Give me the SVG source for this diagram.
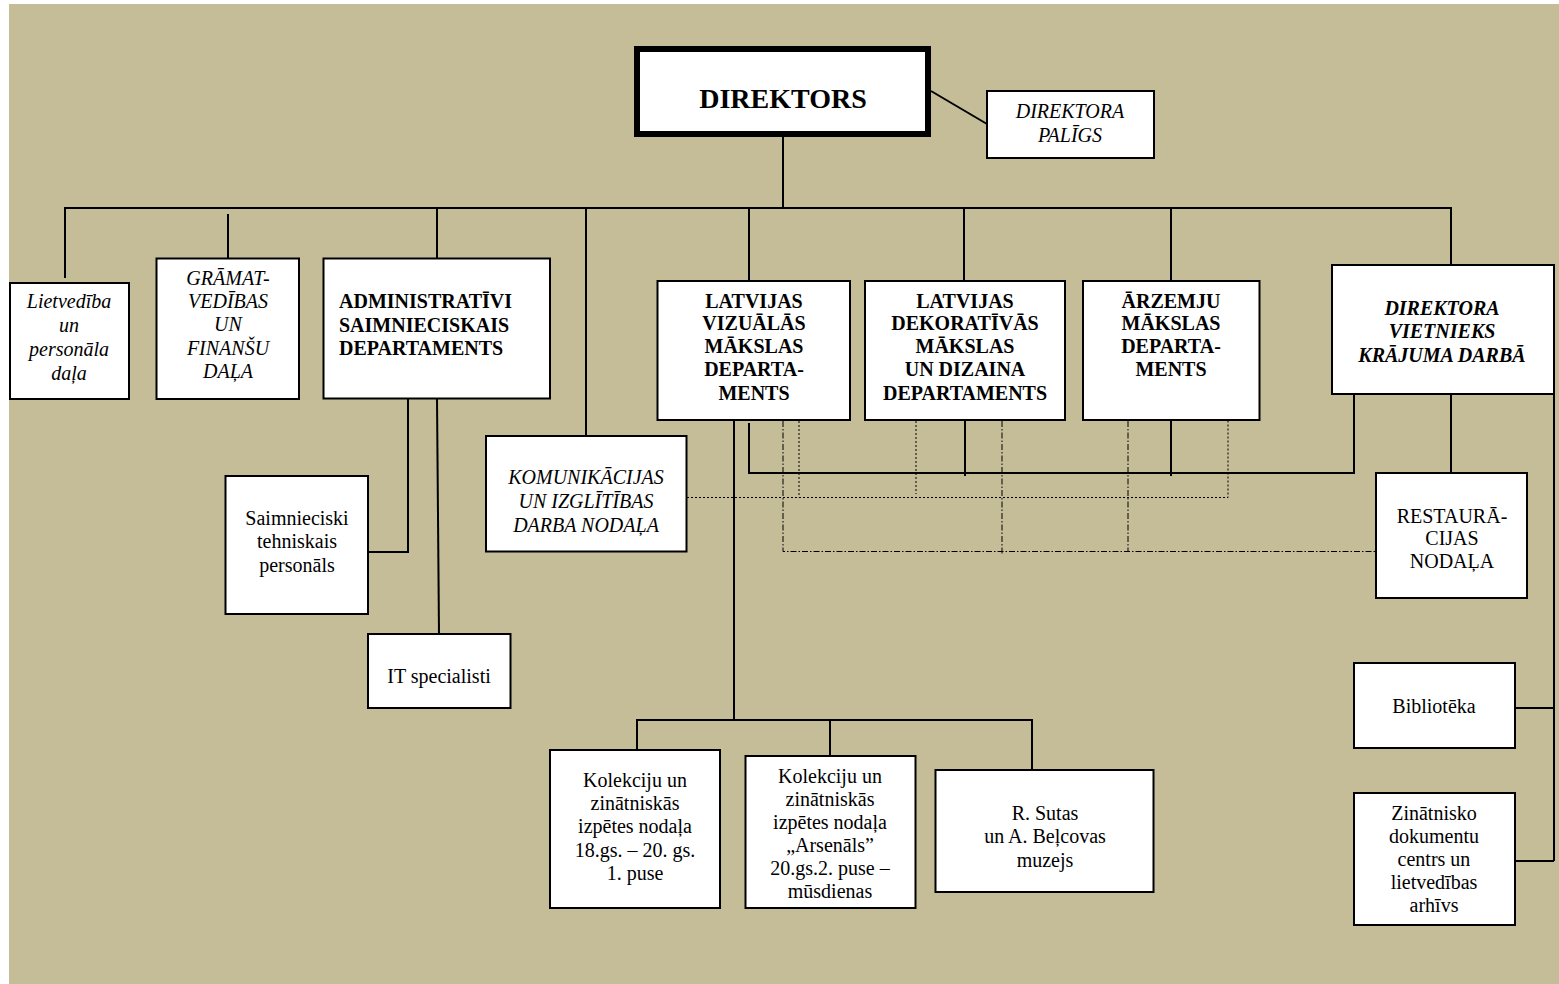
<svg xmlns="http://www.w3.org/2000/svg" width="1559" height="984" viewBox="0 0 1559 984">
<style>
.bx{fill:#fff;stroke:#000;stroke-width:2}
.ln{fill:none;stroke:#000;stroke-width:2}
.dot{fill:none;stroke:#000;stroke-width:1;stroke-dasharray:2 2}
.dd{fill:none;stroke:#000;stroke-width:1;stroke-dasharray:6 2 1.5 2}
text{font-family:"Liberation Serif","Times New Roman",serif;font-size:20px;fill:#000;text-anchor:middle}
.b{font-weight:bold}
.i{font-style:italic}
</style>
<rect x="9" y="4" width="1550" height="980" fill="#C4BD97"/>
<g id="connectors">
<path class="ln" d="M783,137 V208"/>
<path class="ln" d="M65,278 V208 H1451 V265"/>
<path class="ln" d="M437,208 V258"/>
<path class="ln" d="M586,208 V436"/>
<path class="ln" d="M749,208 V281"/>
<path class="ln" d="M964,208 V281"/>
<path class="ln" d="M1171,208 V281"/>
<path class="ln" d="M228,214 V258"/>
<path class="ln" d="M931,91 L987,124"/>
<path class="ln" d="M408,398 V552 H368"/>
<path class="ln" d="M437,398 L439,634"/>
<path class="ln" d="M734,420 V720"/>
<path class="ln" d="M637,750 V720 H1032 V770"/>
<path class="ln" d="M830,720 V756"/>
<path class="ln" d="M749,423 V473 H1354 V394"/>
<path class="ln" d="M965,420 V476"/>
<path class="ln" d="M1171,420 V476"/>
<path class="ln" d="M1451,394 V473"/>
<path class="ln" d="M1554,394 V861"/>
<path class="ln" d="M1515,708 H1554"/>
<path class="ln" d="M1515,861 H1554"/>
<path class="dot" d="M687,497.5 H1228 V421"/>
<path class="dot" d="M799,421 V497.5"/>
<path class="dot" d="M916,421 V494"/>
<path class="dd" d="M783,421 V551.5 H1375"/>
<path class="dd" d="M1002,421 V555"/>
<path class="dd" d="M1128,421 V551.5"/>
</g>
<g id="direktors">
<rect x="637" y="49" width="291" height="85" fill="#fff" stroke="#000" stroke-width="6"/>
<text class="b" x="783" y="108" style="font-size:28px">DIREKTORS</text>
</g>
<g id="direktora-paligs">
<rect class="bx" x="987" y="91" width="167" height="67"/>
<text class="i" x="1070" y="118">DIREKTORA</text>
<text class="i" x="1070" y="142">PALĪGS</text>
</g>
<g id="lietvediba">
<rect class="bx" x="10" y="283" width="119" height="116"/>
<text class="i" x="69" y="308">Lietvedība</text>
<text class="i" x="69" y="332">un</text>
<text class="i" x="69" y="356">personāla</text>
<text class="i" x="69" y="380">daļa</text>
</g>
<g id="gramatvedibas">
<rect class="bx" x="156.5" y="258.5" width="142.5" height="140.5"/>
<text class="i" x="228" y="285">GRĀMAT-</text>
<text class="i" x="228" y="308">VEDĪBAS</text>
<text class="i" x="228" y="331">UN</text>
<text class="i" x="228" y="355">FINANŠU</text>
<text class="i" x="228" y="378">DAĻA</text>
</g>
<g id="administrativi">
<rect class="bx" x="323.5" y="258.5" width="226.5" height="140"/>
<text class="b" x="339" y="308" style="text-anchor:start">ADMINISTRATĪVI</text>
<text class="b" x="339" y="332" style="text-anchor:start">SAIMNIECISKAIS</text>
<text class="b" x="339" y="355" style="text-anchor:start">DEPARTAMENTS</text>
</g>
<g id="komunikacijas">
<rect class="bx" x="486" y="436" width="200.5" height="115.5"/>
<text class="i" x="586" y="484">KOMUNIKĀCIJAS</text>
<text class="i" x="586" y="508">UN IZGLĪTĪBAS</text>
<text class="i" x="586" y="532">DARBA NODAĻA</text>
</g>
<g id="saimnieciski">
<rect class="bx" x="225.5" y="476" width="142.5" height="138"/>
<text x="297" y="525">Saimnieciski</text>
<text x="297" y="548">tehniskais</text>
<text x="297" y="572">personāls</text>
</g>
<g id="it">
<rect class="bx" x="368" y="634" width="142.5" height="74"/>
<text x="439" y="683">IT specialisti</text>
</g>
<g id="lv-vizualas">
<rect class="bx" x="657.5" y="281" width="192.5" height="139"/>
<text class="b" x="754" y="308">LATVIJAS</text>
<text class="b" x="754" y="330">VIZUĀLĀS</text>
<text class="b" x="754" y="353">MĀKSLAS</text>
<text class="b" x="754" y="376">DEPARTA-</text>
<text class="b" x="754" y="400">MENTS</text>
</g>
<g id="lv-dekorativas">
<rect class="bx" x="865" y="281" width="200" height="139"/>
<text class="b" x="965" y="308">LATVIJAS</text>
<text class="b" x="965" y="330">DEKORATĪVĀS</text>
<text class="b" x="965" y="353">MĀKSLAS</text>
<text class="b" x="965" y="376">UN DIZAINA</text>
<text class="b" x="965" y="400">DEPARTAMENTS</text>
</g>
<g id="arzemju">
<rect class="bx" x="1083" y="281" width="176.5" height="139"/>
<text class="b" x="1171" y="308">ĀRZEMJU</text>
<text class="b" x="1171" y="330">MĀKSLAS</text>
<text class="b" x="1171" y="353">DEPARTA-</text>
<text class="b" x="1171" y="376">MENTS</text>
</g>
<g id="direktora-vietnieks">
<rect class="bx" x="1332" y="265" width="222" height="129"/>
<text class="b i" x="1442" y="315">DIREKTORA</text>
<text class="b i" x="1442" y="338">VIETNIEKS</text>
<text class="b i" x="1442" y="362">KRĀJUMA DARBĀ</text>
</g>
<g id="restauracijas">
<rect class="bx" x="1376" y="473" width="151" height="125"/>
<text x="1452" y="523">RESTAURĀ-</text>
<text x="1452" y="545">CIJAS</text>
<text x="1452" y="568">NODAĻA</text>
</g>
<g id="biblioteka">
<rect class="bx" x="1354" y="663" width="161" height="85"/>
<text x="1434" y="713">Bibliotēka</text>
</g>
<g id="zinatnisko">
<rect class="bx" x="1354" y="793" width="161" height="132"/>
<text x="1434" y="820">Zinātnisko</text>
<text x="1434" y="843">dokumentu</text>
<text x="1434" y="866">centrs un</text>
<text x="1434" y="889">lietvedības</text>
<text x="1434" y="912">arhīvs</text>
</g>
<g id="kolekciju-18">
<rect class="bx" x="550" y="750" width="170" height="158"/>
<text x="635" y="787">Kolekciju un</text>
<text x="635" y="810">zinātniskās</text>
<text x="635" y="833">izpētes nodaļa</text>
<text x="635" y="857">18.gs. – 20. gs.</text>
<text x="635" y="880">1. puse</text>
</g>
<g id="kolekciju-arsenals">
<rect class="bx" x="745.5" y="756" width="170" height="152"/>
<text x="830" y="783">Kolekciju un</text>
<text x="830" y="806">zinātniskās</text>
<text x="830" y="829">izpētes nodaļa</text>
<text x="830" y="852">„Arsenāls”</text>
<text x="830" y="875">20.gs.2. puse –</text>
<text x="830" y="898">mūsdienas</text>
</g>
<g id="sutas-belcovas">
<rect class="bx" x="935.5" y="770" width="218" height="122"/>
<text x="1045" y="820">R. Sutas</text>
<text x="1045" y="843">un A. Beļcovas</text>
<text x="1045" y="867">muzejs</text>
</g>
</svg>
